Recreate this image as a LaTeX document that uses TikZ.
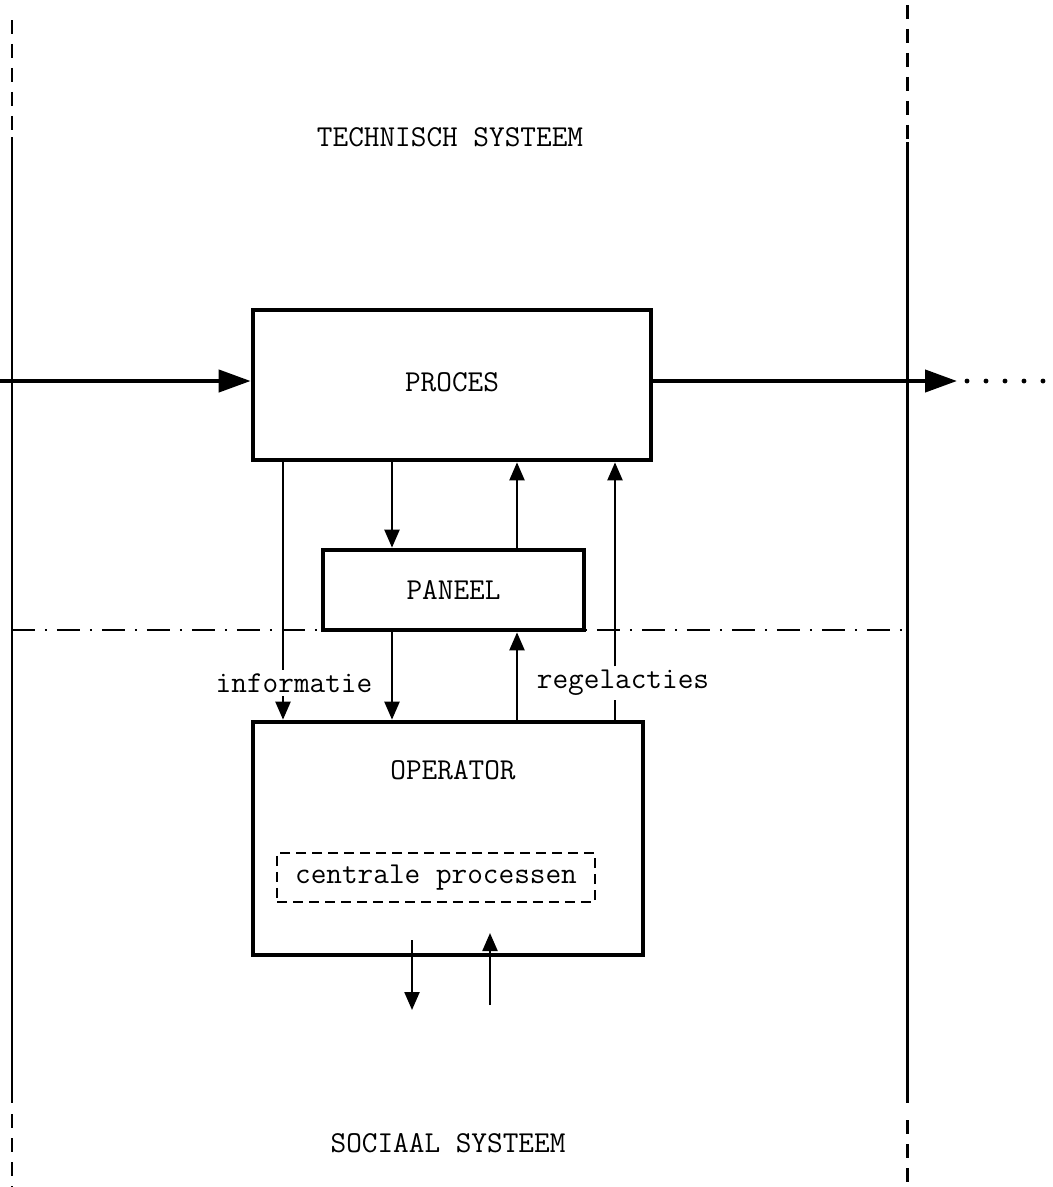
\documentclass[tikz,border=0pt]{standalone}
\usepackage{fontspec}
\usetikzlibrary{arrows.meta}
\begin{document}
\begin{tikzpicture}[x=0.02cm,y=-0.02cm,
	tekst/.style={font=\fontsize{17.3}{20}\selectfont\ttfamily,inner sep=1pt},
	doos/.style={draw,line width=2.7pt,inner sep=0pt},
	stroom/.style={line width=2.4pt,-{Triangle[length=0.64cm,width=0.44cm]}},
	dun/.style={line width=1.3pt},
	pijl/.style={line width=1.3pt,-{Triangle[length=0.36cm,width=0.3cm]}},
	grens/.style={line width=1.7pt},
	grensstreep/.style={line width=1.7pt,dash pattern=on 0.28cm off 0.2cm},
	scheiding/.style={line width=1.4pt,dash pattern=on 0.46cm off 0.2cm on 0.04cm off 0.2cm}]
	\useasboundingbox (0,0) rectangle (1053,1187);
	
	%systeemgrenzen
	\draw[grensstreep] (12,20) -- (12,137);
	\draw[grens] (12,137) -- (12,1103);
	\draw[grensstreep] (12,1114) -- (12,1187);
	\draw[grensstreep] (907,5) -- (907,142);
	\draw[grens] (907,142) -- (907,1103);
	\draw[grensstreep] (907,1120) -- (907,1187);
	\draw[scheiding] (12,630) -- (907,630);
	
	\node[tekst] (technisch) at (450,137) {TECHNISCH SYSTEEM};
	\node[tekst] (sociaal) at (448,1143) {SOCIAAL SYSTEEM};
	
	%blokken
	\node[doos,minimum width=7.96cm,minimum height=3cm] (proces) at (452,385) {};
	\node[tekst] (procesnaam) at (452,382) {PROCES};
	\node[doos,fill=white,minimum width=5.22cm,minimum height=1.6cm,tekst] (paneel) at (453.5,590) {PANEEL};
	\node[doos,minimum width=7.8cm,minimum height=4.66cm] (operator) at (448,838.5) {};
	\node[tekst] (operatornaam) at (453,770) {OPERATOR};
	\node[draw,dun,dash pattern=on 0.2cm off 0.12cm,minimum width=6.36cm,minimum height=0.98cm,tekst] (centraal) at (436,877.5) {centrale processen};
	
	\node[tekst,inner sep=2pt] (informatie) at (294,683) {informatie};
	\node[tekst,inner sep=2pt] (regelacties) at (623,683) {regelacties};
	
	%kolommen voor de verbindingen
	\coordinate (k1) at (283,0);
	\coordinate (k2) at (392,0);
	\coordinate (k3) at (517,0);
	\coordinate (k4) at (615,0);
	
	%hoofdstroom
	\coordinate (in) at (0,381);
	\coordinate (uit) at (957,381);
	\coordinate (rand) at (1053,381);
	\draw[stroom] (in) -- (in -| proces.west);
	\draw[stroom] (proces.east |- uit) -- (uit);
	\draw[line width=2.8pt,line cap=round,dash pattern=on 0pt off 0.38cm] ([xshift=0.2cm]uit) -- (rand);
	
	%informatie en regelacties
	\draw[dun] (proces.south -| k1) -- (informatie.north -| k1);
	\draw[pijl] (informatie.south -| k1) -- (operator.north -| k1);
	\draw[pijl] (proces.south -| k2) -- (paneel.north -| k2);
	\draw[pijl] (paneel.north -| k3) -- (proces.south -| k3);
	\draw[pijl] (paneel.south -| k2) -- (operator.north -| k2);
	\draw[pijl] (operator.north -| k3) -- (paneel.south -| k3);
	\draw[dun] (operator.north -| k4) -- (regelacties.south -| k4);
	\draw[pijl] (regelacties.north -| k4) -- (proces.south -| k4);
	
	%naar en van het sociaal systeem
	\coordinate (uitA) at (412,940);
	\coordinate (uitB) at (412,1010);
	\coordinate (inA) at (490,1005);
	\coordinate (inB) at (490,933);
	\draw[pijl] (uitA) -- (uitB);
	\draw[pijl] (inA) -- (inB);
\end{tikzpicture}
\end{document}
